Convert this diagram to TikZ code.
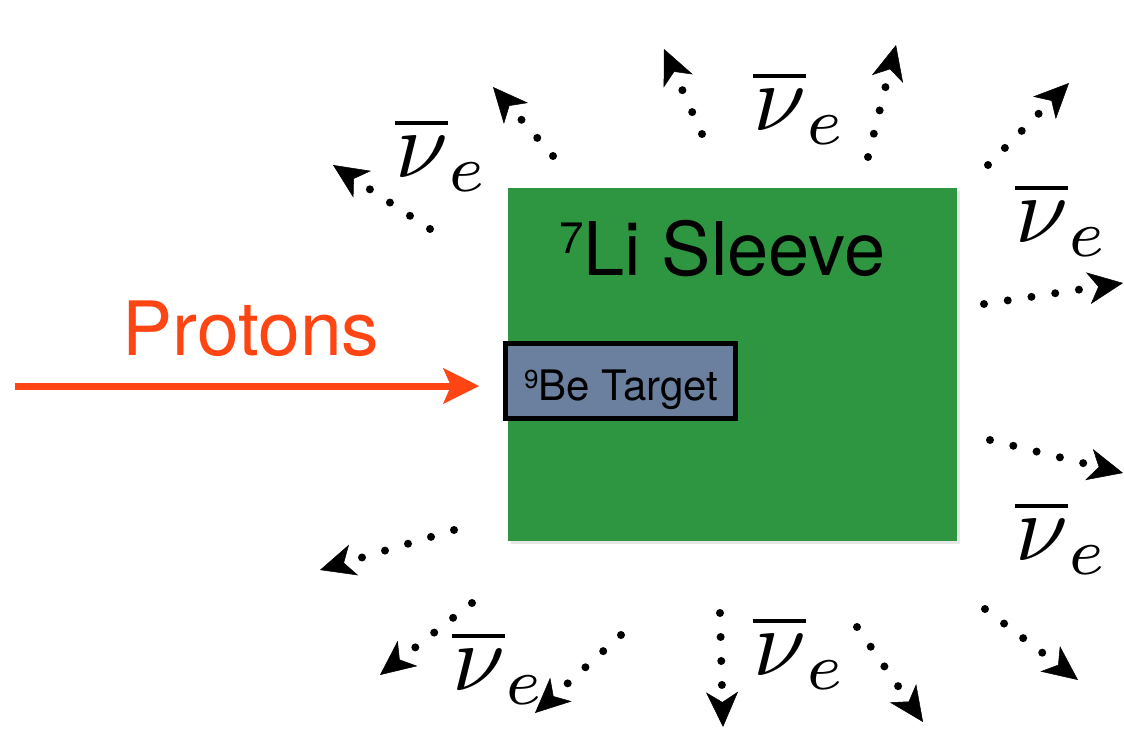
\documentclass[tikz,border=0pt]{standalone}
\usepackage{graphicx}
\usepackage{fontspec}
\setsansfont{TeX Gyre Heros}
\usetikzlibrary{arrows.meta,shadows}
\definecolor{sleeve}{RGB}{46,150,64}
\definecolor{target}{RGB}{107,127,158}
\definecolor{proton}{RGB}{255,69,20}
\newcommand{\nubar}{\scalebox{9.5}{$\overline{\nu}_e$}}
\begin{document}
\begin{tikzpicture}[x=1pt,y=-1pt,
  nuarrow/.style={line width=8pt, line cap=round, dash pattern=on 0pt off 24pt,
    -{Stealth[length=35pt,width=32pt,inset=10pt,line width=0.5pt]}},
  nulabel/.style={inner sep=0pt, anchor=base west},
  bigtext/.style={inner sep=0pt, anchor=base west, font=\sffamily\fontsize{#1}{#1}\selectfont},
]
\useasboundingbox (0,0) rectangle (1124,728);

% sleeve and target
\node[fill=sleeve, minimum width=449pt, minimum height=353pt, inner sep=0pt,
  drop shadow={shadow xshift=3pt, shadow yshift=-3pt, opacity=0.2}] (sleeve) at (732.5,364.5) {};
\node[fill=target, draw=black, line width=5pt, minimum width=230pt, minimum height=75pt, inner sep=0pt] (target) at (620.5,381) {};

\node[bigtext=74] (litext) at (559,275) {{\fontsize{44}{44}\selectfont\raisebox{22pt}{7}}Li Sleeve};
\node[bigtext=42] (betext) at (524,400) {{\fontsize{26}{26}\selectfont\raisebox{12pt}{9}}Be Target};

% protons
\node[inner sep=0pt, anchor=base, text=proton, font=\sffamily\fontsize{75}{75}\selectfont] (protons) at (251,355) {Protons};
\coordinate (pstart) at (15,386);
\draw[proton, line width=7pt, -{Stealth[length=36pt,width=36pt,inset=8pt,line width=0.5pt]}] (pstart) -- ([xshift=-24pt,yshift=-5pt]target.west);

% antineutrino labels
\node[nulabel] (nu1) at (395,177) {\nubar};
\node[nulabel] (nu2) at (753,130) {\nubar};
\node[nulabel] (nu3) at (1015,242) {\nubar};
\node[nulabel] (nu4) at (1015,560) {\nubar};
\node[nulabel] (nu5) at (452,690) {\nubar};
\node[nulabel] (nu6) at (753,675) {\nubar};

% dotted arrows
\coordinate (a0) at (430,229); \coordinate (a1) at (333,165);
\coordinate (b0) at (553,156); \coordinate (b1) at (493,87);
\coordinate (c0) at (702,134); \coordinate (c1) at (664,49);
\coordinate (d0) at (868,157); \coordinate (d1) at (896,45);
\coordinate (e0) at (988,165); \coordinate (e1) at (1069,83);
\coordinate (f0) at (984,304); \coordinate (f1) at (1123,283);
\coordinate (g0) at (990,440); \coordinate (g1) at (1123,473);
\coordinate (h0) at (454,530); \coordinate (h1) at (320,570);
\coordinate (i0) at (472,603); \coordinate (i1) at (380,675);
\coordinate (j0) at (621,635); \coordinate (j1) at (535,713);
\coordinate (k0) at (720,613); \coordinate (k1) at (723,727);
\coordinate (l0) at (857,627); \coordinate (l1) at (923,722);
\coordinate (m0) at (985,609); \coordinate (m1) at (1078,680);
\foreach \p in {a,b,c,d,e,f,g,h,i,j,k,l,m}{
  \draw[nuarrow] (\p0) -- (\p1);
}
\end{tikzpicture}
\end{document}
